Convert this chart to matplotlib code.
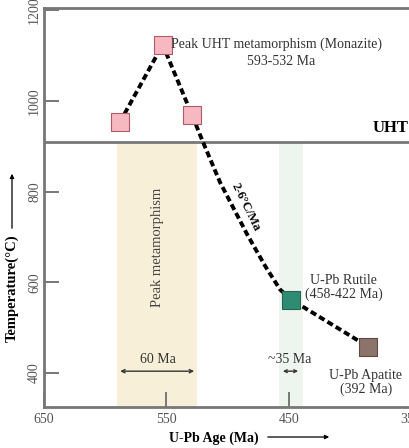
import matplotlib
matplotlib.use("Agg")
import matplotlib.pyplot as plt

plt.rcParams['font.family'] = ['Liberation Serif', 'DejaVu Serif']

# data
path_age = [588, 553, 529, 520, 506, 484, 469, 457, 448, 385]
path_temp = [953, 1124, 969, 909, 820, 706, 635, 584, 562, 458]

monazite_age = [588, 553, 529]
monazite_temp = [953, 1124, 969]
rutile_age = [448]
rutile_temp = [562]
apatite_age = [385]
apatite_temp = [458]

uht_temp = 910
peak_band = (590, 525)
rutile_band = (458, 438)

xticks = [650, 550, 450, 350]
yticks = [400, 600, 800, 1000, 1200]

fig = plt.figure(figsize=(4.09, 4.48), dpi=100)
ax = fig.add_axes([44/409, 41/448, 367/409, 399/448])

grey = '#777777'
ax.set_xlim(650, 350)
ax.set_ylim(325, 1205)

# shaded bands below the UHT line
ax.fill_between(peak_band, 325, uht_temp, color='#f8efd9', lw=0, zorder=0)
ax.fill_between(rutile_band, 325, uht_temp, color='#eef5ee', lw=0, zorder=0)

ax.axhline(uht_temp, color=grey, lw=2, zorder=1)

ax.plot(path_age, path_temp, color='black', lw=2.8, ls=(0, (1.6, 0.9)), zorder=2)
ax.plot(monazite_age, monazite_temp, 's', ms=13.5, mfc='#f7b9c1', mec='#b05a66', mew=0.8, zorder=3)
ax.plot(rutile_age, rutile_temp, 's', ms=13, mfc='#2f8c72', mec='#236650', mew=0.8, zorder=3)
ax.plot(apatite_age, apatite_temp, 's', ms=13.5, mfc='#8c746c', mec='#5e4a44', mew=0.8, zorder=3)

ax.set_xticks(xticks)
ax.set_yticks(yticks)
ax.tick_params(direction='in', length=11, width=1.4, color=grey, labelcolor='#555555', labelsize=10)
ax.tick_params(axis='x', pad=4)
ax.tick_params(axis='y', pad=2)
for lab in ax.get_yticklabels():
    lab.set_rotation(90)
    lab.set_va('center')
for s in ax.spines.values():
    s.set_color(grey)
    s.set_linewidth(2)

# text labels
ax.text(546, 1124, 'Peak UHT metamorphism (Monazite)', fontsize=10, va='center', ha='left', color='#333333')
ax.text(456, 1087, '593-532 Ma', fontsize=10, va='center', ha='center', color='#333333')
ax.text(352, 940, 'UHT', fontsize=12, fontweight='bold', ha='right', va='center')
ax.text(485, 765, '2-6°C/Ma', fontsize=9, fontweight='bold', rotation=-64, ha='center', va='center')
ax.text(557, 676, 'Peak metamorphism', fontsize=10.5, rotation=90, ha='center', va='center', color='#444444')
ax.text(405, 588, 'U-Pb Rutile\n(458-422 Ma)', fontsize=10, ha='center', va='center', color='#333333', linespacing=1.05)
ax.text(387, 380, 'U-Pb Apatite\n(392 Ma)', fontsize=10, ha='center', va='center', color='#333333', linespacing=1.05)

ax.annotate('', xy=(590, 404), xytext=(525, 404), arrowprops=dict(arrowstyle='<->', color='#333333', lw=1, mutation_scale=6))
ax.text(557, 430, '60 Ma', fontsize=10, ha='center', va='center', color='#333333')
ax.annotate('', xy=(457, 404), xytext=(440, 404), arrowprops=dict(arrowstyle='<->', color='#333333', lw=1, mutation_scale=5))
ax.text(449, 430, '~35 Ma', fontsize=10, ha='center', va='center', color='#333333')

# axis titles with arrows
fig.text(214/409, 1 - 438/448, 'U-Pb Age (Ma)', fontsize=10, fontweight='bold', ha='center', va='center')
fig.add_artist(matplotlib.patches.FancyArrowPatch((265/409, 1 - 437/448), (332/409, 1 - 437/448),
               transform=fig.transFigure, arrowstyle='-|>', mutation_scale=6, lw=0.9, color='black'))
fig.text(12/409, 1 - 288/448, 'Temperature(°C)', fontsize=10.5, fontweight='bold', rotation=90, ha='center', va='center')
fig.add_artist(matplotlib.patches.FancyArrowPatch((12/409, 1 - 231/448), (12/409, 1 - 171/448),
               transform=fig.transFigure, arrowstyle='-|>', mutation_scale=6, lw=0.9, color='black'))

fig.savefig('out.png', dpi=100)
